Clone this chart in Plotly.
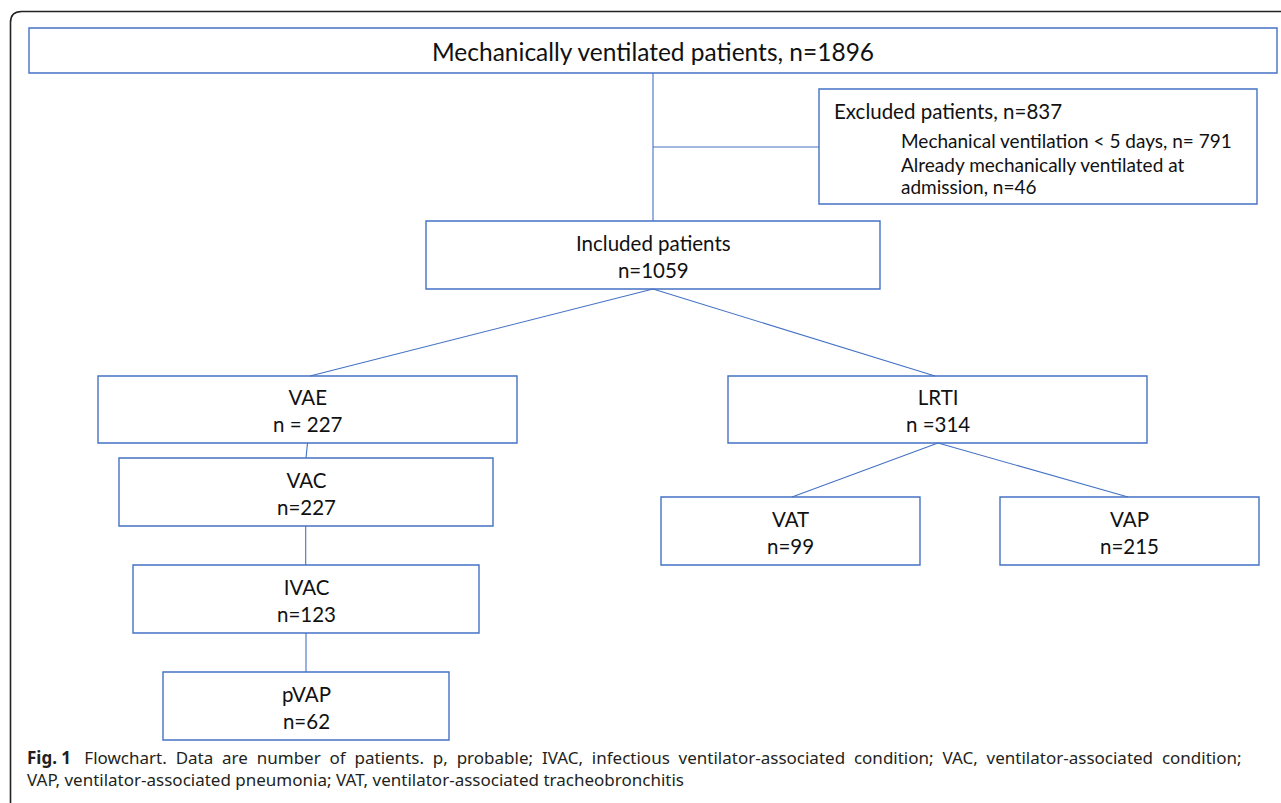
import plotly.graph_objects as go

# ---------------- data ----------------
node_ids = ["total", "included", "vae", "vac", "ivac", "pvap", "lrti", "vat", "vap"]
node_names = ["Mechanically ventilated patients", "Included patients", "VAE", "VAC",
              "IVAC", "pVAP", "LRTI", "VAT", "VAP"]
node_counts = [1896, 1059, 227, 227, 123, 62, 314, 99, 215]
count_prefix = [", n=", "<br>n=", "<br>n = ", "<br>n=", "<br>n=", "<br>n=", "<br>n =", "<br>n=", "<br>n="]

excluded_title = "Excluded patients"
excluded_total = 837
excluded_lines = ["Mechanical ventilation < 5 days, n= 791",
                  "Already mechanically ventilated at",
                  "admission, n=46"]

caption_bold = "Fig. 1"
caption_lines = ["Flowchart. Data are number of patients. p, probable; IVAC, infectious ventilator-associated "
                 "condition; VAC, ventilator-associated condition;",
                 "VAP, ventilator-associated pneumonia; VAT, ventilator-associated tracheobronchitis"]

# ---------------- layout (pixel geometry) ----------------
W, H = 1281, 803
box_geom = {
    "total":    (29, 28, 1277, 73),
    "included": (426, 221, 880, 289),
    "vae":      (98, 376, 517, 443),
    "vac":      (119, 458, 493, 526),
    "ivac":     (133, 565, 479, 633),
    "pvap":     (163, 672, 449, 740),
    "lrti":     (728, 376, 1147, 443),
    "vat":      (661, 497, 920, 565),
    "vap":      (1000, 497, 1259, 565),
}
box_font = {"total": 24.5}
excl_geom = (819, 89, 1257, 204)
excl_line_y = [140, 164, 186]
# connectors: (from node, x at bottom, to node, x at top)
connectors = [
    ("total", 653, "included", 653),
    ("included", 653, "vae", 310),
    ("included", 653, "lrti", 935),
    ("vae", 307.5, "vac", 306),
    ("vac", 305.7, "ivac", 305.7),
    ("ivac", 306, "pvap", 306),
    ("lrti", 938, "vat", 792),
    ("lrti", 938, "vap", 1128),
]
side_branch = (653, 147)
caption_y = 768

BLUE = "#4472C4"
FONT = "Lato"
TXT = "#111111"

fig = go.Figure()
shapes = []
annotations = []

# outer frame with rounded top-left corner
r = 11
shapes.append(dict(type="path", xref="x", yref="y",
                   path=f"M 10.5,{H+5} L 10.5,{11.5+r} Q 10.5,11.5 {10.5+r},11.5 L {W+5},11.5",
                   line=dict(color="#222222", width=1.6)))

for nid, name, cnt, pre in zip(node_ids, node_names, node_counts, count_prefix):
    x0, y0, x1, y1 = box_geom[nid]
    shapes.append(dict(type="rect", xref="x", yref="y", x0=x0, y0=y0, x1=x1, y1=y1,
                       line=dict(color=BLUE, width=1.4), fillcolor="rgba(0,0,0,0)"))
    annotations.append(dict(x=(x0 + x1) / 2, y=(y0 + y1) / 2 + 1, xref="x", yref="y",
                            text=f"{name}{pre}{cnt}", showarrow=False,
                            xanchor="center", yanchor="middle", align="center",
                            font=dict(family=FONT, size=box_font.get(nid, 20.5), color=TXT)))

# excluded box
ex0, ey0, ex1, ey1 = excl_geom
shapes.append(dict(type="rect", xref="x", yref="y", x0=ex0, y0=ey0, x1=ex1, y1=ey1,
                   line=dict(color=BLUE, width=1.4), fillcolor="rgba(0,0,0,0)"))
annotations.append(dict(x=ex0 + 13, y=111, xref="x", yref="y",
                        text=f"{excluded_title}, n={excluded_total}", showarrow=False,
                        xanchor="left", yanchor="middle", align="left",
                        font=dict(family=FONT, size=20.5, color=TXT)))
for line, ly in zip(excluded_lines, excl_line_y):
    annotations.append(dict(x=ex0 + 80, y=ly, xref="x", yref="y",
                            text=line, showarrow=False,
                            xanchor="left", yanchor="middle", align="left",
                            font=dict(family=FONT, size=19, color=TXT)))

# connectors
for a, xa, b, xb in connectors:
    ya = box_geom[a][3]
    yb = box_geom[b][1]
    shapes.append(dict(type="line", xref="x", yref="y", x0=xa, y0=ya, x1=xb, y1=yb,
                       line=dict(color=BLUE, width=1.1)))
sx, sy = side_branch
shapes.append(dict(type="line", xref="x", yref="y", x0=sx, y0=sy, x1=ex0, y1=sy,
                   line=dict(color=BLUE, width=1.1)))

# caption (first line justified: widen word spaces)
line1 = caption_lines[0].replace(" ", " &nbsp;")
cap_text = f"<b>{caption_bold}</b> &nbsp;&nbsp;" + line1 + "<br>" + caption_lines[1]
annotations.append(dict(x=25, y=caption_y, xref="x", yref="y",
                        text=cap_text, showarrow=False,
                        xanchor="left", yanchor="middle", align="left",
                        font=dict(family="Noto Sans", size=17, color="#231f20")))

fig.add_trace(go.Scatter(x=[0, W], y=[0, H], mode="markers", marker=dict(opacity=0),
                         hoverinfo="skip", showlegend=False))
fig.update_layout(width=W, height=H, margin=dict(l=0, r=0, t=0, b=0),
                  paper_bgcolor="white", plot_bgcolor="white",
                  shapes=shapes, annotations=annotations, showlegend=False,
                  xaxis=dict(range=[0, W], visible=False, fixedrange=True),
                  yaxis=dict(range=[H, 0], visible=False, fixedrange=True))
fig.write_html("out.html", config={"displayModeBar": False},
               post_script="document.body.style.margin='0';document.body.style.overflow='hidden';")
